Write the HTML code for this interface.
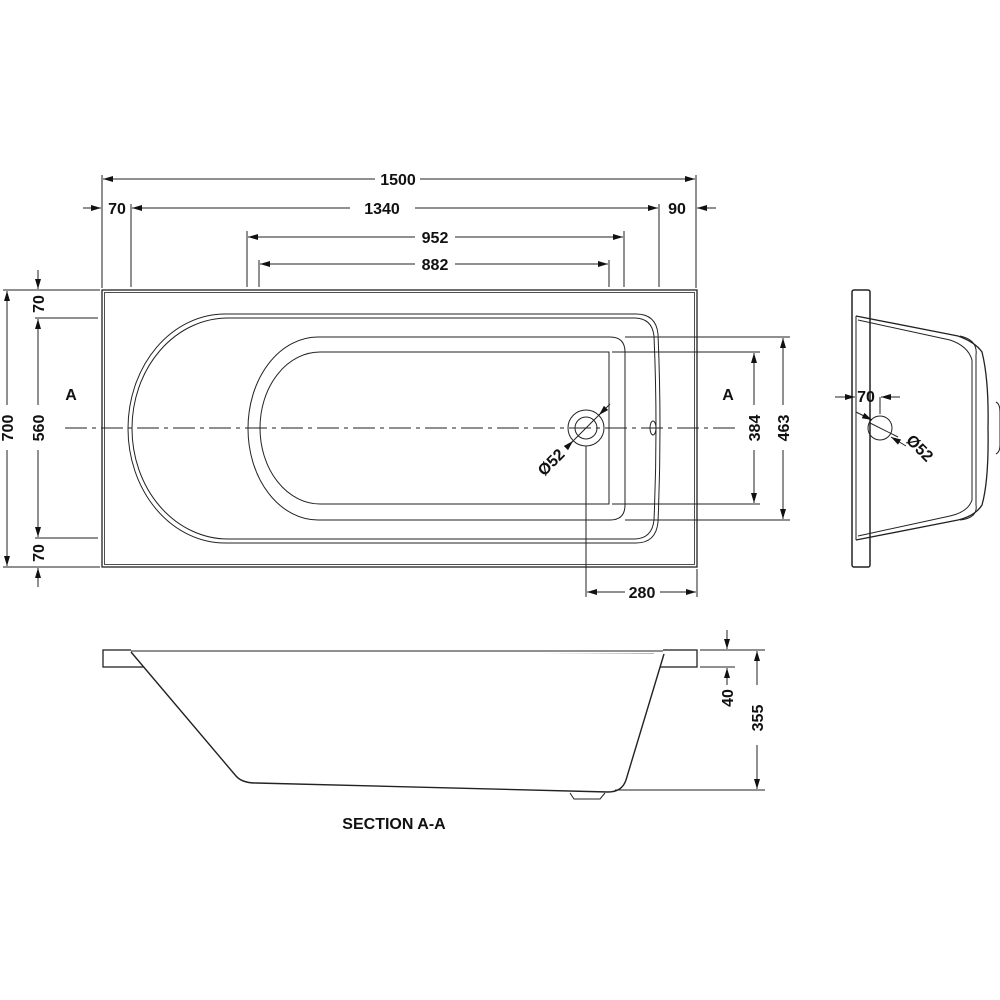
<!DOCTYPE html>
<html><head><meta charset="utf-8"><style>
html,body{margin:0;padding:0;background:#fff;}
svg{display:block;}
text{font-family:"Liberation Sans",sans-serif;font-weight:bold;font-size:16px;fill:#111;}
</style></head><body>
<svg width="1000" height="1000" viewBox="0 0 1000 1000" xmlns="http://www.w3.org/2000/svg">
<defs>
<marker id="ar" viewBox="0 0 10 6" refX="10" refY="3" markerWidth="10" markerHeight="6" orient="auto" markerUnits="userSpaceOnUse"><path d="M0,0 L10,3 L0,6 z" fill="#111"/></marker>
</defs>
<g stroke="#222" stroke-width="1" fill="none">
<line x1="102" y1="175" x2="102" y2="288"/>
<line x1="696" y1="175" x2="696" y2="288"/>
<line x1="131" y1="204" x2="131" y2="287"/>
<line x1="659" y1="204" x2="659" y2="287"/>
<line x1="247" y1="231" x2="247" y2="287"/>
<line x1="624" y1="231" x2="624" y2="287"/>
<line x1="259" y1="260" x2="259" y2="287"/>
<line x1="609" y1="260" x2="609" y2="287"/>
<line x1="375" y1="179" x2="103" y2="179" marker-end="url(#ar)"/>
<line x1="420" y1="179" x2="695" y2="179" marker-end="url(#ar)"/>
<line x1="350" y1="208" x2="132" y2="208" marker-end="url(#ar)"/>
<line x1="415" y1="208" x2="658" y2="208" marker-end="url(#ar)"/>
<line x1="83" y1="208" x2="101" y2="208" marker-end="url(#ar)"/>
<line x1="716" y1="208" x2="697" y2="208" marker-end="url(#ar)"/>
<line x1="415" y1="237" x2="248" y2="237" marker-end="url(#ar)"/>
<line x1="455" y1="237" x2="623" y2="237" marker-end="url(#ar)"/>
<line x1="415" y1="264" x2="260" y2="264" marker-end="url(#ar)"/>
<line x1="455" y1="264" x2="608" y2="264" marker-end="url(#ar)"/>
<line x1="3" y1="290" x2="100" y2="290"/>
<line x1="3" y1="567" x2="100" y2="567"/>
<line x1="35" y1="318" x2="98" y2="318"/>
<line x1="35" y1="538" x2="98" y2="538"/>
<line x1="7" y1="405" x2="7" y2="291" marker-end="url(#ar)"/>
<line x1="7" y1="450" x2="7" y2="566" marker-end="url(#ar)"/>
<line x1="38" y1="270" x2="38" y2="289" marker-end="url(#ar)"/>
<line x1="38" y1="405" x2="38" y2="319" marker-end="url(#ar)"/>
<line x1="38" y1="450" x2="38" y2="537" marker-end="url(#ar)"/>
<line x1="38" y1="587" x2="38" y2="568" marker-end="url(#ar)"/>
<rect x="102" y="290" width="595" height="277" stroke-width="1.3"/>
<rect x="104.5" y="292.5" width="590" height="272" stroke-width="0.8"/>
<path d="M225,314 L636,314 Q656,314 658,334 Q662,428 658,522 Q656,543 636,543 L225,543 A97,114.5 0 0 1 225,314 Z"/>
<path d="M228,318 L634,318 Q652,318 654,336 Q658,428 654,520 Q652,539 634,539 L228,539 A96,110.5 0 0 1 228,318 Z"/>
<path d="M318,337 L610,337 Q625,337 625,352 L625,505 Q625,520 610,520 L318,520 A70,91.5 0 0 1 318,337 Z"/>
<path d="M320,352 L609,352 L609,504 L320,504 A60,76 0 0 1 320,352 Z"/>
<circle cx="586" cy="428" r="18"/>
<circle cx="586" cy="428" r="11"/>
<ellipse cx="653" cy="428" rx="3" ry="7"/>
<line x1="65" y1="428" x2="735" y2="428" stroke-dasharray="22,5,4,5"/>
<line x1="570" y1="444" x2="600" y2="414"/>
<line x1="566" y1="448" x2="573" y2="441" marker-end="url(#ar)"/>
<line x1="610" y1="404" x2="599" y2="415" marker-end="url(#ar)"/>
<line x1="586" y1="446" x2="586" y2="597"/>
<line x1="625" y1="337" x2="790" y2="337"/>
<line x1="625" y1="520" x2="790" y2="520"/>
<line x1="612" y1="352" x2="760" y2="352"/>
<line x1="612" y1="504" x2="760" y2="504"/>
<line x1="754" y1="405" x2="754" y2="353" marker-end="url(#ar)"/>
<line x1="754" y1="450" x2="754" y2="503" marker-end="url(#ar)"/>
<line x1="783" y1="405" x2="783" y2="338" marker-end="url(#ar)"/>
<line x1="783" y1="450" x2="783" y2="519" marker-end="url(#ar)"/>
<line x1="697" y1="569" x2="697" y2="597"/>
<line x1="625" y1="592" x2="587" y2="592" marker-end="url(#ar)"/>
<line x1="660" y1="592" x2="696" y2="592" marker-end="url(#ar)"/>
<rect x="852" y="290" width="18" height="277" rx="2" stroke-width="1.5"/>
<path d="M856,316 L958,336 Q975,342 982,352 Q989,380 988,428 Q989,480 982,505 Q975,516 958,520 L856,540" stroke-width="1.3"/>
<path d="M858,320 L950,340 Q968,346 972,360 L972,500 Q968,512 950,516 L858,536"/>
<path d="M960,336 Q978,340 976,355 L976,505 Q978,518 960,520"/>
<path d="M996,402 Q1000,404 1000,412 L1000,445 Q1000,452 996,454"/>
<line x1="856" y1="316" x2="856" y2="540"/>
<circle cx="880" cy="428" r="12"/>
<line x1="880" y1="397" x2="880" y2="414"/>
<line x1="835" y1="397" x2="855" y2="397" marker-end="url(#ar)"/>
<line x1="900" y1="397" x2="881" y2="397" marker-end="url(#ar)"/>
<line x1="856" y1="412" x2="872" y2="420" marker-end="url(#ar)"/>
<line x1="870" y1="423" x2="898" y2="437"/>
<line x1="906" y1="446" x2="891" y2="437" marker-end="url(#ar)"/>
<rect x="103" y="650" width="594" height="17" stroke-width="1.3"/>
<rect x="131" y="648" width="532" height="4" fill="#fff" stroke="none"/>
<path d="M131,651 L663,651"/>
<path d="M166,654 L654,654" stroke-width="0.8"/>
<path d="M131,652 L236,776 Q242,783 256,783 L608,792 Q622,792 626,780 L664,654" stroke-width="1.4" fill="#fff"/>
<path d="M570,793 L574,799 L600,799 L605,793"/>
<line x1="700" y1="650" x2="765" y2="650"/>
<line x1="700" y1="667" x2="735" y2="667"/>
<line x1="615" y1="790" x2="765" y2="790"/>
<line x1="727" y1="630" x2="727" y2="649" marker-end="url(#ar)"/>
<line x1="727" y1="685" x2="727" y2="668" marker-end="url(#ar)"/>
<line x1="757" y1="685" x2="757" y2="651" marker-end="url(#ar)"/>
<line x1="757" y1="745" x2="757" y2="789" marker-end="url(#ar)"/>
</g>
<g>
<text x="398" y="185" text-anchor="middle">1500</text>
<text x="382" y="214" text-anchor="middle">1340</text>
<text x="117" y="214" text-anchor="middle">70</text>
<text x="677" y="214" text-anchor="middle">90</text>
<text x="435" y="243" text-anchor="middle">952</text>
<text x="435" y="270" text-anchor="middle">882</text>
<text x="642" y="598" text-anchor="middle">280</text>
<text x="71" y="400" text-anchor="middle">A</text>
<text x="728" y="400" text-anchor="middle">A</text>
<text x="394" y="829" text-anchor="middle">SECTION A-A</text>
<text transform="translate(13,428) rotate(-90)" text-anchor="middle">700</text>
<text transform="translate(44,428) rotate(-90)" text-anchor="middle">560</text>
<text transform="translate(44,304) rotate(-90)" text-anchor="middle">70</text>
<text transform="translate(44,553) rotate(-90)" text-anchor="middle">70</text>
<text transform="translate(760,428) rotate(-90)" text-anchor="middle">384</text>
<text transform="translate(789,428) rotate(-90)" text-anchor="middle">463</text>
<text transform="translate(733,698) rotate(-90)" text-anchor="middle">40</text>
<text transform="translate(763,718) rotate(-90)" text-anchor="middle">355</text>
<text transform="translate(555,466) rotate(-45)" text-anchor="middle">Ø52</text>
<text transform="translate(916,452) rotate(45)" text-anchor="middle">Ø52</text>
<text x="866" y="402" text-anchor="middle">70</text>
</g>
</svg>
</body></html>
